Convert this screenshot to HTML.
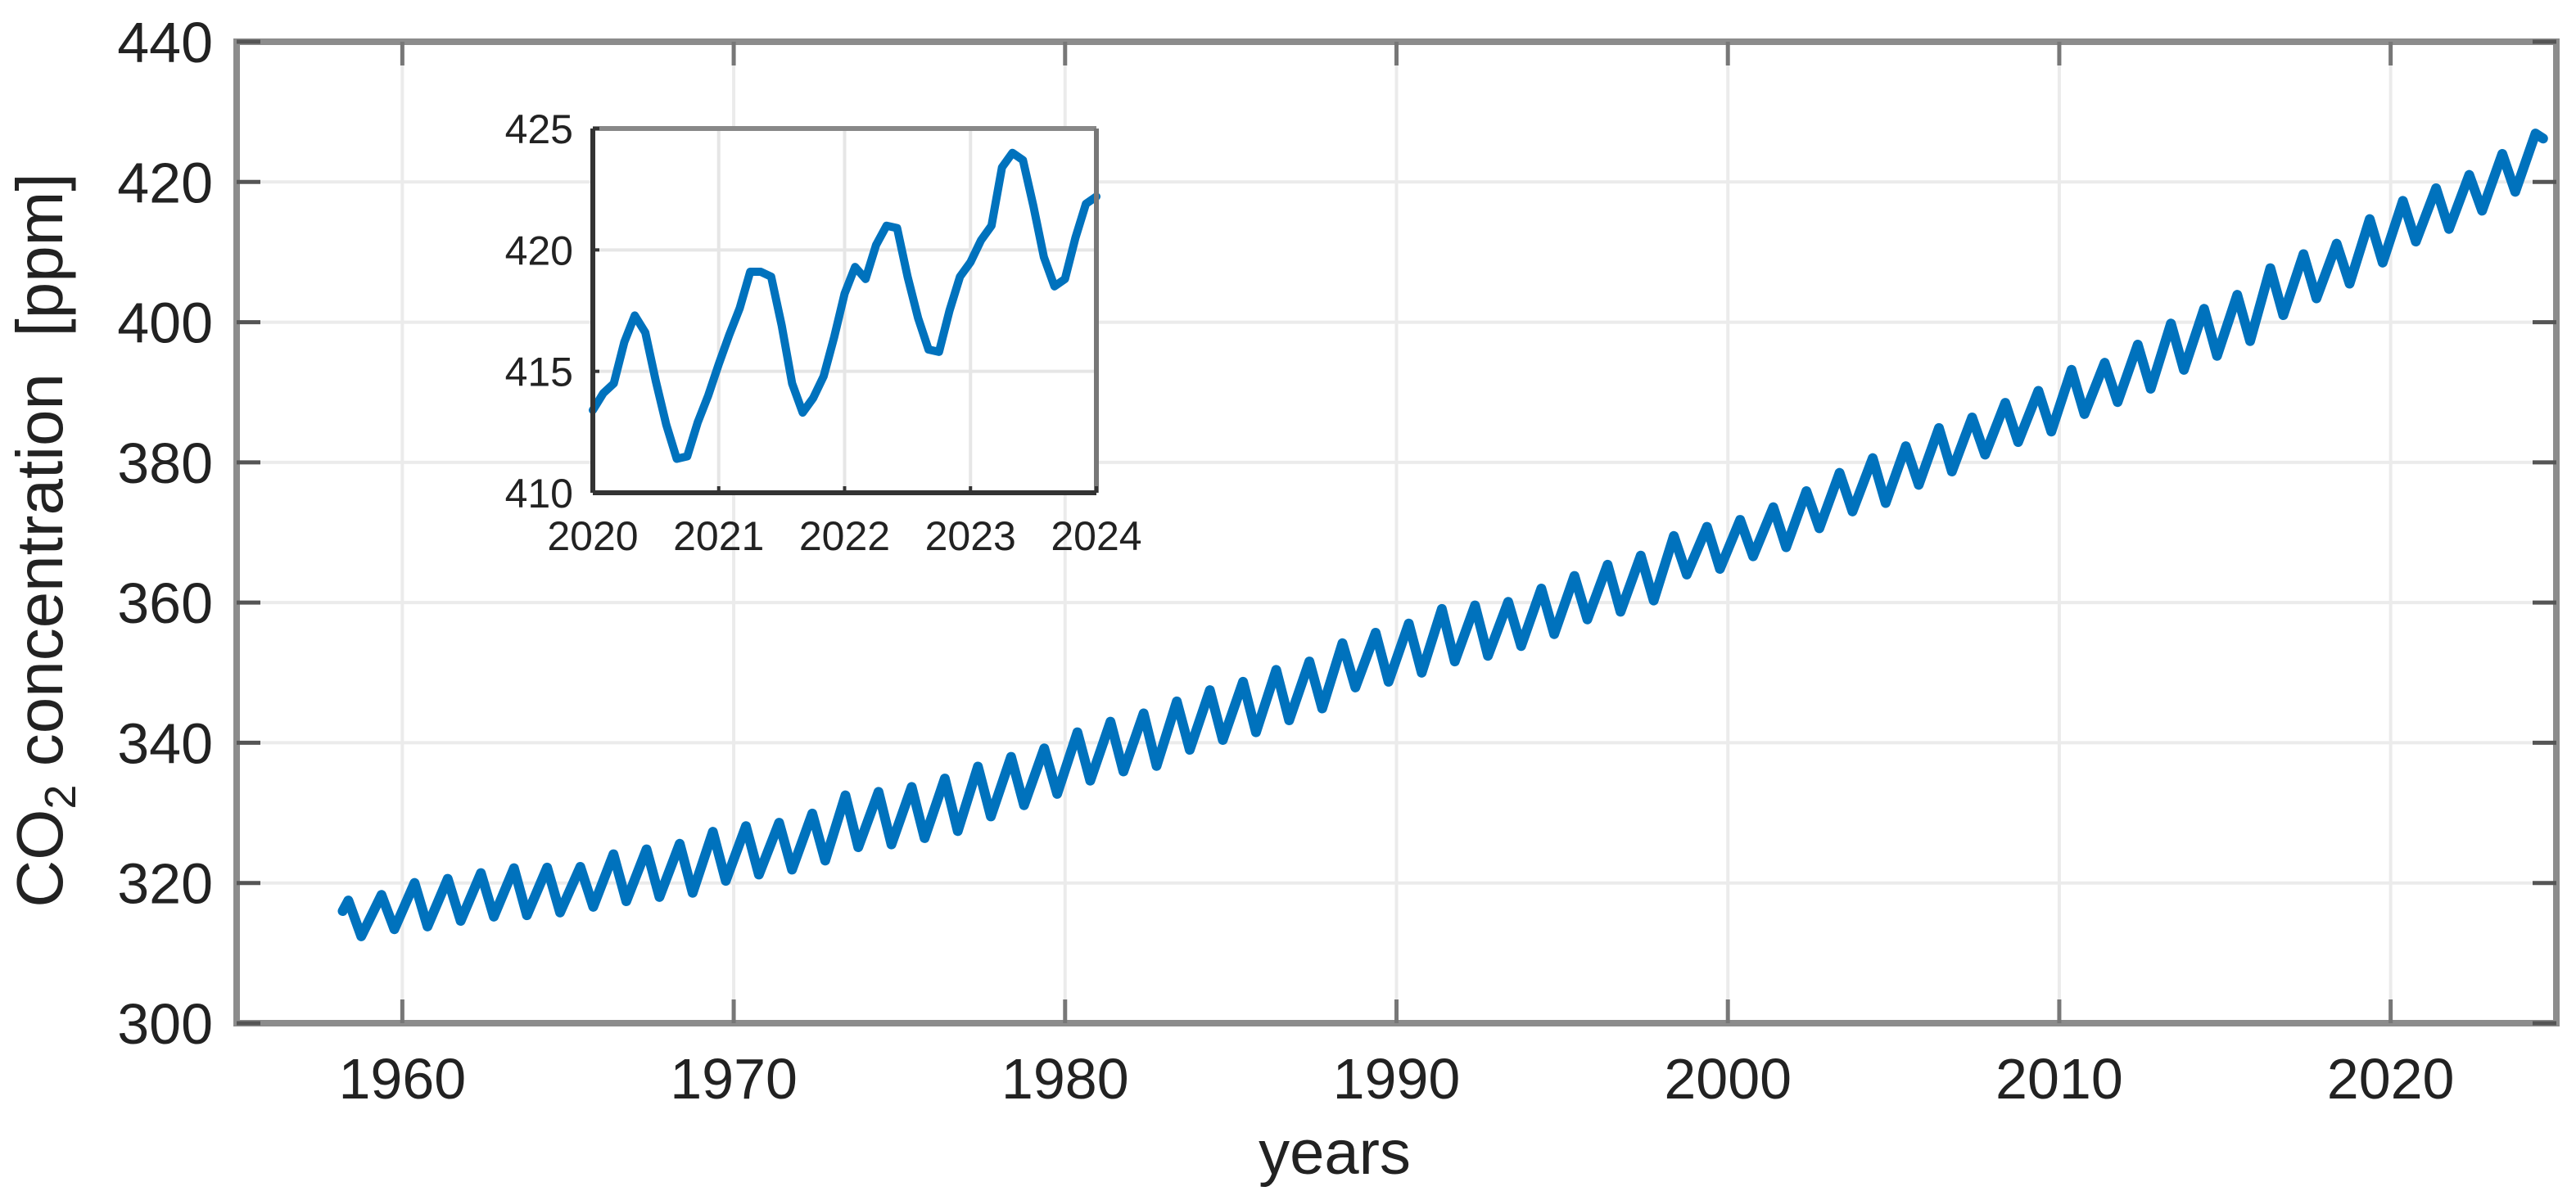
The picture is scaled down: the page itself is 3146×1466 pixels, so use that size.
<!DOCTYPE html>
<html><head><meta charset="utf-8">
<style>
html,body{margin:0;padding:0;background:#fff;}
svg{display:block;font-family:"Liberation Sans",Arial,sans-serif;}
</style></head>
<body>
<svg id="chart" width="3146" height="1466" viewBox="0 0 3146 1466" xmlns="http://www.w3.org/2000/svg">
<rect x="0" y="0" width="3146" height="1466" fill="#fff"/>
<g id="main"></g>
<g id="inset"></g>
<text transform="translate(76,660) rotate(-90)" text-anchor="middle" font-size="80" fill="#222">CO<tspan font-size="54" dy="16">2</tspan><tspan dy="-16" xml:space="preserve"> concentration  [ppm]</tspan></text>
<text x="1630" y="1434" text-anchor="middle" font-size="76" fill="#222">years</text>
</svg>
<script>
// ---- main chart data: annual May peak and Sep/Oct trough (ppm) ----
const years = [1958,1959,1960,1961,1962,1963,1964,1965,1966,1967,1968,1969,1970,1971,1972,1973,1974,1975,1976,1977,1978,1979,1980,1981,1982,1983,1984,1985,1986,1987,1988,1989,1990,1991,1992,1993,1994,1995,1996,1997,1998,1999,2000,2001,2002,2003,2004,2005,2006,2007,2008,2009,2010,2011,2012,2013,2014,2015,2016,2017,2018,2019,2020,2021,2022,2023,2024];
const peaks = [317.5,318.3,320.0,320.6,321.4,322.1,322.2,322.3,324.1,324.8,325.6,327.3,328.1,328.6,329.9,332.5,333.0,333.7,334.9,336.6,338.0,339.2,341.5,343.0,344.2,345.9,347.5,348.7,350.4,351.6,354.2,355.7,357.0,359.1,359.6,360.1,362.0,363.8,365.4,366.7,369.5,370.8,371.8,373.6,375.9,378.5,380.6,382.3,384.9,386.4,388.5,390.2,393.2,394.2,396.8,399.8,401.9,403.9,407.7,409.7,411.2,414.7,417.3,419.1,421.0,424.0,426.9];
const troughs = [312.4,313.4,313.8,314.6,315.2,315.4,315.8,316.6,317.4,318.0,318.6,320.3,321.2,321.9,323.2,325.1,325.5,326.4,327.4,329.5,331.1,332.7,334.6,335.9,336.7,339.0,340.4,341.5,343.2,344.9,347.9,348.7,350.0,351.6,352.4,353.8,355.5,357.6,358.7,360.3,364.0,364.8,366.6,367.9,370.6,373.0,374.2,376.8,378.7,381.1,382.9,384.4,386.9,388.6,390.5,393.2,395.2,397.3,401.0,403.4,405.5,408.5,411.5,413.3,415.9,418.6];
const startValue = [1958.2, 316.0];
const endValue = [2024.6, 426.2];
const mainXTicks = [1960,1970,1980,1990,2000,2010,2020];
const mainYTicks = [300,320,340,360,380,400,420,440];
// ---- inset data: monthly values Jan 2020 – Jan 2024 ----
const insetMonthly = [413.4,414.1,414.5,416.2,417.3,416.6,414.6,412.8,411.4,411.5,412.9,414.0,
 415.3,416.5,417.6,419.1,419.1,418.9,416.9,414.5,413.3,413.9,414.8,416.4,
 418.2,419.3,418.8,420.2,421.0,420.9,418.9,417.2,415.9,415.8,417.5,418.9,
 419.5,420.4,421.0,423.4,424.0,423.7,421.8,419.7,418.5,418.8,420.5,421.9,422.2];
const insetXTicks = [2020,2021,2022,2023,2024];
const insetYTicks = [410,415,420,425];

const NS='http://www.w3.org/2000/svg';
function mk(tag, attrs, parent){const e=document.createElementNS(NS,tag);for(const k in attrs)e.setAttribute(k,attrs[k]);parent.appendChild(e);return e;}

const M={l:289,r:3122,t:51,b:1250,x0:1955,x1:2025,y0:300,y1:440};
const mx=v=>M.l+(v-M.x0)/(M.x1-M.x0)*(M.r-M.l);
const my=v=>M.b-(v-M.y0)/(M.y1-M.y0)*(M.b-M.t);
const main=document.getElementById('main');
mainXTicks.forEach(t=>{
  const g=mk('line',{x1:mx(t),x2:mx(t),y1:M.t,y2:M.b,stroke:'#ebebeb','stroke-width':4},main);
  
  
});
mainYTicks.forEach(t=>{
  const g=mk('line',{x1:M.l,x2:M.r,y1:my(t),y2:my(t),stroke:'#ebebeb','stroke-width':4},main);
  
  
});
let pts=[[startValue[0],startValue[1]]];
years.forEach((y,i)=>{
  pts.push([y+0.37,peaks[i]]);
  if(i<troughs.length) pts.push([y+0.76,troughs[i]]);
});
pts=pts.filter(p=>p[0]<=endValue[0]);
pts.push(endValue);
const line=mk('polyline',{points:pts.map(p=>mx(p[0]).toFixed(1)+','+my(p[1]).toFixed(1)).join(' '),fill:'none',stroke:'#0072BD','stroke-width':12,'stroke-linejoin':'round','stroke-linecap':'round'},main);


const frame=mk('rect',{x:M.l,y:M.t,width:M.r-M.l,height:M.b-M.t,fill:'none',stroke:'#8c8c8c','stroke-width':8},main);


mainXTicks.forEach(t=>{
  mk('line',{x1:mx(t),x2:mx(t),y1:M.b,y2:M.b-29,stroke:'#777','stroke-width':5},main);
  mk('line',{x1:mx(t),x2:mx(t),y1:M.t,y2:M.t+29,stroke:'#777','stroke-width':5},main);
  const tx=mk('text',{x:mx(t),y:M.b+92,'text-anchor':'middle','font-size':70,fill:'#222'},main);
  tx.textContent=t;
  
  
});
mainYTicks.forEach(t=>{
  mk('line',{x1:M.l,x2:M.l+29,y1:my(t),y2:my(t),stroke:'#555','stroke-width':5},main);
  mk('line',{x1:M.r,x2:M.r-29,y1:my(t),y2:my(t),stroke:'#555','stroke-width':5},main);
  const tx=mk('text',{x:260,y:my(t)+25,'text-anchor':'end','font-size':70,fill:'#222'},main);
  tx.textContent=t;
  
  
});

const I={l:724,r:1339,t:157,b:602,x0:2020,x1:2024,y0:410,y1:425};
const ix=v=>I.l+(v-I.x0)/(I.x1-I.x0)*(I.r-I.l);
const iy=v=>I.b-(v-I.y0)/(I.y1-I.y0)*(I.b-I.t);
const inset=document.getElementById('inset');
const bg=mk('rect',{x:I.l,y:I.t,width:I.r-I.l,height:I.b-I.t,fill:'#fff'},inset);


insetXTicks.forEach(t=>{
  const g=mk('line',{x1:ix(t),x2:ix(t),y1:I.t,y2:I.b,stroke:'#e6e6e6','stroke-width':4},inset);
  
  
});
insetYTicks.forEach(t=>{
  const g=mk('line',{x1:I.l,x2:I.r,y1:iy(t),y2:iy(t),stroke:'#e6e6e6','stroke-width':4},inset);
  
  
});
const ip=insetMonthly.map((v,i)=>ix(2020+i/12).toFixed(1)+','+iy(v).toFixed(1)).join(' ');
const il=mk('polyline',{points:ip,fill:'none',stroke:'#0072BD','stroke-width':10,'stroke-linejoin':'round','stroke-linecap':'round'},inset);


mk('line',{x1:I.l,x2:I.r,y1:I.t,y2:I.t,stroke:'#888','stroke-width':6},inset);
mk('line',{x1:I.r,x2:I.r,y1:I.t,y2:I.b,stroke:'#777','stroke-width':6},inset);
mk('line',{x1:I.l,x2:I.r,y1:I.b,y2:I.b,stroke:'#333','stroke-width':6},inset);
mk('line',{x1:I.l,x2:I.l,y1:I.t,y2:I.b,stroke:'#333','stroke-width':6},inset);
insetXTicks.forEach(t=>{
  mk('line',{x1:ix(t),x2:ix(t),y1:I.b,y2:I.b-8,stroke:'#333','stroke-width':4},inset);
  const tx=mk('text',{x:ix(t),y:I.b+70,'text-anchor':'middle','font-size':50,fill:'#222'},inset);
  tx.textContent=t;
  
  
});
insetYTicks.forEach(t=>{
  mk('line',{x1:I.l,x2:I.l+8,y1:iy(t),y2:iy(t),stroke:'#333','stroke-width':4},inset);
  const tx=mk('text',{x:I.l-24,y:iy(t)+18,'text-anchor':'end','font-size':50,fill:'#222'},inset);
  tx.textContent=t;
  
  
});
</script>
</body></html>
